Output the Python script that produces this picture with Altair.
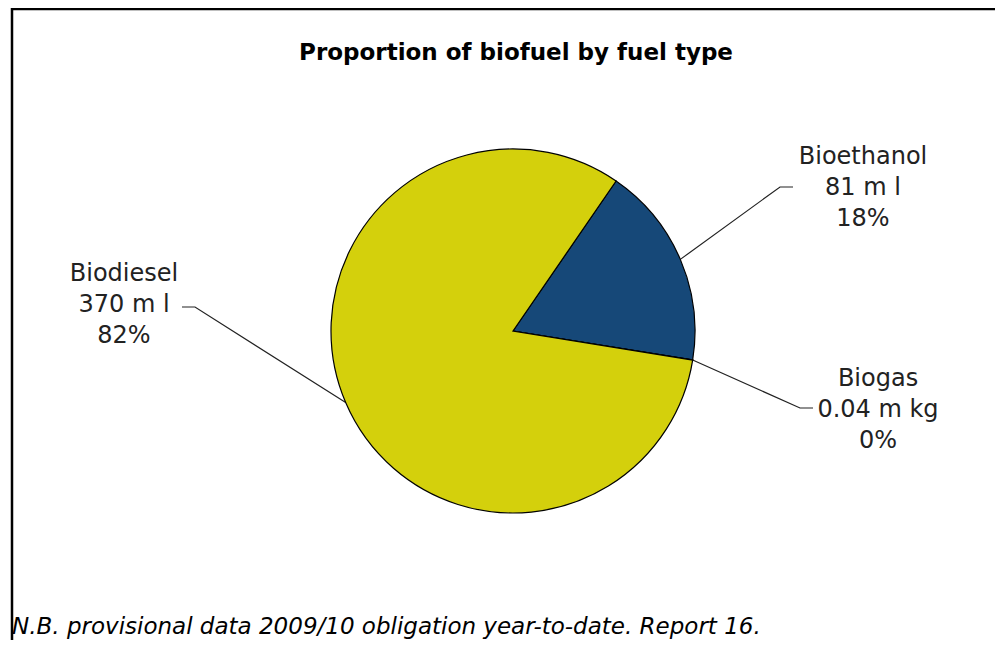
import math
import altair as alt
import pandas as pd

# ---- data ----
fuels = ["Bioethanol", "Biogas", "Biodiesel"]
values = [81, 0.04, 370]
amounts = ["81 m l", "0.04 m kg", "370 m l"]
shares = ["18%", "0%", "82%"]
colors = ["#164878", "#9fa3a6", "#d4d00c"]

title_text = "Proportion of biofuel by fuel type"
note_text = "N.B. provisional data 2009/10 obligation year-to-date. Report 16."

# ---- layout (page pixel coordinates) ----
W, H = 987, 632
OX, OY = 8, 8
CX, CY, R = 513, 331, 182
START = math.radians(34.5)
label_pos = {"Bioethanol": (863, 157), "Biogas": (878, 379), "Biodiesel": (124, 274)}
elbow = {"Bioethanol": [(780, 187), (793, 187)],
         "Biogas": [(800, 408), (813, 408)],
         "Biodiesel": [(195, 307), (182, 307)]}
LINE_GAP = 31
FONT = "DejaVu Sans"

xs = alt.Scale(domain=[OX, OX + W], range=[0, W])
ys = alt.Scale(domain=[OY, OY + H], range=[0, H])

pie_df = pd.DataFrame({"fuel": fuels, "value": values, "order": [0, 1, 2]})

pie = alt.Chart(pie_df).mark_arc(radius=R, stroke="black", strokeWidth=1.2).encode(
    theta=alt.Theta("value:Q", stack=True,
                    scale=alt.Scale(range=[START, START + 2 * math.pi])),
    color=alt.Color("fuel:N", scale=alt.Scale(domain=fuels, range=colors), legend=None),
    order=alt.Order("order:Q"),
    x=alt.value(CX - OX),
    y=alt.value(CY - OY),
)

# leader line anchors from slice angles
total = sum(values)
rows = []
cum = 0.0
for f, v in zip(fuels, values):
    a0 = START + 2 * math.pi * cum / total
    a1 = START + 2 * math.pi * (cum + v) / total
    cum += v
    mid = (a0 + a1) / 2
    ax = CX + R * math.sin(mid)
    ay = CY - R * math.cos(mid)
    pts = [(ax, ay)] + elbow[f]
    for i, (px, py) in enumerate(pts):
        rows.append({"fuel": f, "i": i, "x": px, "y": py})
lines_df = pd.DataFrame(rows)

leaders = alt.Chart(lines_df).mark_line(color="#222222", strokeWidth=1.2).encode(
    x=alt.X("x:Q", scale=xs, axis=None),
    y=alt.Y("y:Q", scale=ys, axis=None),
    detail="fuel:N",
    order="i:Q",
)

trows = []
for f, am, sh in zip(fuels, amounts, shares):
    lx, ly = label_pos[f]
    for k, t in enumerate([f, am, sh]):
        trows.append({"t": t, "x": lx, "y": ly + k * LINE_GAP})
text_df = pd.DataFrame(trows)

labels = alt.Chart(text_df).mark_text(font=FONT, fontSize=24, color="#222222",
                                      align="center", baseline="middle").encode(
    x=alt.X("x:Q", scale=xs, axis=None),
    y=alt.Y("y:Q", scale=ys, axis=None),
    text="t:N",
)

title = alt.Chart(pd.DataFrame({"t": [title_text], "x": [516], "y": [53]})).mark_text(
    font=FONT, fontSize=23, fontWeight="bold", color="black",
    align="center", baseline="middle").encode(
    x=alt.X("x:Q", scale=xs, axis=None),
    y=alt.Y("y:Q", scale=ys, axis=None),
    text="t:N",
)

note = alt.Chart(pd.DataFrame({"t": [note_text], "x": [12], "y": [634]})).mark_text(
    font=FONT, fontSize=23, fontStyle="italic", color="black",
    align="left", baseline="alphabetic").encode(
    x=alt.X("x:Q", scale=xs, axis=None),
    y=alt.Y("y:Q", scale=ys, axis=None),
    text="t:N",
)

frame = alt.Chart(pd.DataFrame({"x": [12], "x2": [999], "y": [9], "y2": [760]})).mark_rect(
    fill=None, stroke="black", strokeWidth=2.5, clip=True).encode(
    x=alt.X("x:Q", scale=xs, axis=None), x2="x2:Q",
    y=alt.Y("y:Q", scale=ys, axis=None), y2="y2:Q",
)

chart = alt.layer(frame, leaders, pie, labels, title, note).properties(
    width=W, height=H, padding=0, autosize=alt.AutoSizeParams(type="none"),
    background="white",
).configure_view(stroke=None)

chart.save("out.html", embed_options={"renderer": "svg", "actions": False})
